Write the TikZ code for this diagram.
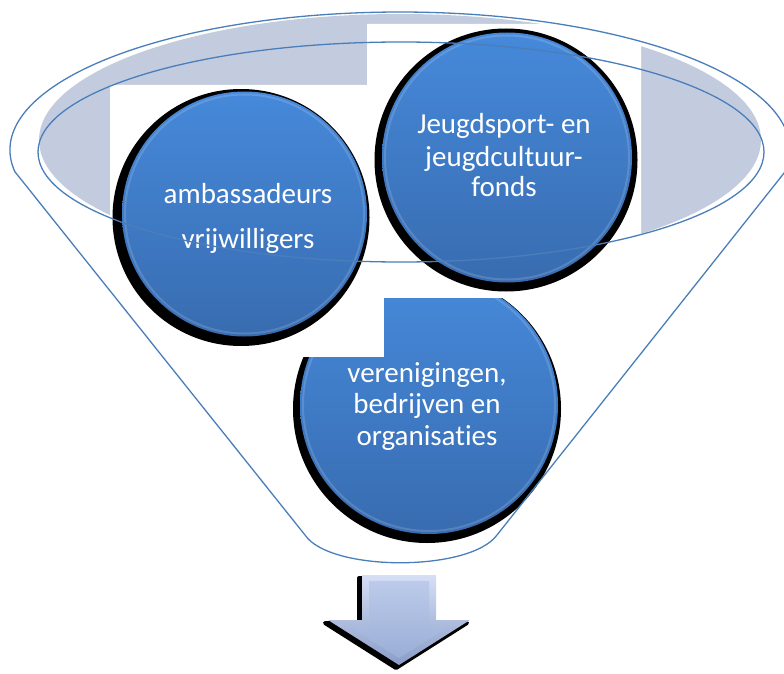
\documentclass[tikz,border=0pt]{standalone}
\usepackage{fontspec}
\setmainfont{Carlito}[Ligatures={NoCommon}]
\usetikzlibrary{calc}
\definecolor{funnelline}{RGB}{74,126,187}
\definecolor{ringgrey}{RGB}{195,204,222}
\definecolor{balltop}{RGB}{70,137,218}
\definecolor{ballbot}{RGB}{56,108,176}
\definecolor{arrtop}{RGB}{214,223,244}
\definecolor{arrbot}{RGB}{138,157,200}
\definecolor{arrinnertop}{RGB}{188,203,234}
\definecolor{arrinnerbot}{RGB}{155,174,214}
\begin{document}
\begin{tikzpicture}[x=1pt,y=-1pt,
  ball/.style={circle, inner sep=0pt, top color=balltop, bottom color=ballbot, draw=none},
  ballshadow/.style={fill=black},
  balltext/.style={text=white, font=\fontsize{29}{32}\selectfont, inner sep=0pt, anchor=base},
  funnel/.style={draw=funnelline, line width=1.3pt},
  rim/.style={draw=white, draw opacity=0.15, line width=2pt},
]
\useasboundingbox (0,0) rectangle (784,674);
% grey band of the funnel mouth (partly hidden by white patch)
\fill[ringgrey] (400,140) ellipse [x radius=361, y radius=126];
\fill[white] (110,85) -- (367,85) -- (367,24) -- (641,24) -- (641,275) -- (110,275) -- cycle;
% bottom ball, partly cut away
\begin{scope}
\clip (384,298) -- (700,298) -- (700,700) -- (0,700) -- (0,357) -- (384,357) -- cycle;
\fill[ballshadow] (427,409) circle (134);
\node[ball, minimum size=258] (org) at (429,405) {};
\draw[rim] (org.center) circle (126);
\end{scope}
% left ball
\fill[ballshadow] (241,217.5) circle (128.5);
\node[ball, minimum size=245] (amb) at (244.5,214) {};
\draw[rim] (amb.center) circle (119.5);
% right ball
\fill[ballshadow] (506,160) circle (131.5);
\node[ball, minimum size=250] (fonds) at (507,157.5) {};
\draw[rim] (fonds.center) circle (122);
% texts
\node[balltext] (t1) at (248,203) {ambassadeurs};
\node[balltext] (t2) at (248,248) {vrijwilligers};
\node[balltext] (t3) at (504,133) {Jeugdsport- en};
\node[balltext] (t4) at (504,166) {jeugdcultuur-};
\node[balltext] (t5) at (504,196) {fonds};
\node[balltext] (t6) at (427,382) {verenigingen,};
\node[balltext] (t7) at (427,413) {bedrijven en};
\node[balltext] (t8) at (427,445) {organisaties};
% funnel outline
\draw[funnel, line join=round] (305,535) -- (14.8,171.6)
   arc[start angle=171, end angle=369, x radius=390, y radius=138]
   -- (497,535) .. controls (470,572) and (330,572) .. cycle;
\draw[funnel] (401,152) ellipse [x radius=363, y radius=110];
% down arrow
\begin{scope}[shift={(-3,3)}]
\filldraw[black, line width=4pt, line join=round] (362,575) -- (436,575) -- (436,620) -- (470,620) -- (399,665) -- (328,620) -- (362,620) -- cycle;
\end{scope}
\shade[top color=arrtop, bottom color=arrbot] (362,575) -- (436,575) -- (436,620) -- (470,620) -- (399,665) -- (328,620) -- (362,620) -- cycle;
\shade[top color=arrinnertop, bottom color=arrinnerbot] (369,581) -- (429,581) -- (429,626) -- (450,626) -- (399,658) -- (348,626) -- (369,626) -- cycle;
\end{tikzpicture}
\end{document}
